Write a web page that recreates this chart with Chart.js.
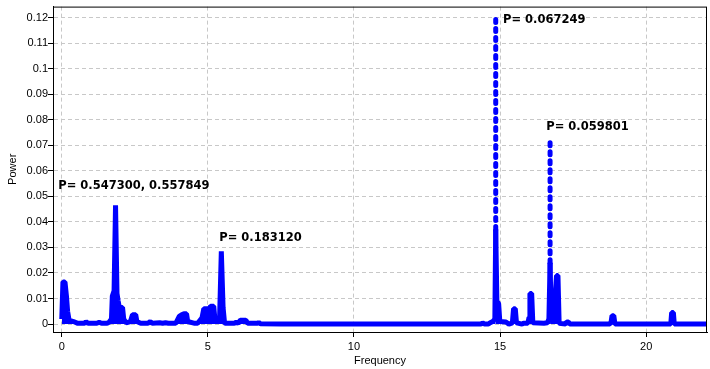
<!DOCTYPE html>
<html>
<head>
<meta charset="utf-8">
<script src="https://cdn.jsdelivr.net/npm/chart.js@4/dist/chart.umd.min.js"></script>
<style>
  body { margin: 0; background: #fff; }
  #wrap { width: 710px; height: 369px; }
</style>
</head>
<body>
<div id="wrap"><canvas id="myChart"></canvas></div>
<script>
// periodogram samples
const frequency = [
  0.00, 0.04, 0.11, 0.16, 0.20, 0.25, 0.40, 0.55, 0.78, 0.83, 0.90, 1.20, 1.28, 1.36, 1.55, 1.62,
  1.70, 1.73, 1.79, 1.84, 1.89, 1.93, 1.97, 2.08, 2.12, 2.20, 2.35, 2.42, 2.53, 2.57, 2.70,
  2.95, 3.03, 3.10, 3.35, 3.45, 3.55, 3.65, 3.90,
  4.02, 4.10, 4.18, 4.27, 4.31, 4.55, 4.65, 4.80, 4.86, 5.05, 5.09, 5.20, 5.24, 5.34, 5.40,
  5.46, 5.52, 5.57, 5.62, 5.90, 5.97, 6.04, 6.11, 6.30, 6.36, 6.70, 6.74, 6.80, 7.50,
  14.35, 14.40, 14.46, 14.60, 14.66, 14.75, 14.82, 14.85, 14.85, 14.85, 14.89, 14.95, 14.99,
  15.20, 15.30, 15.42, 15.46, 15.52, 15.56, 15.75, 15.80, 15.95, 15.99, 16.02, 16.08, 16.12,
  16.50, 16.62, 16.67, 16.71, 16.71, 16.71, 16.75, 16.82, 16.93, 16.98, 17.02,
  17.24, 17.28, 17.34, 17.38, 18.76, 18.80, 18.83, 18.89, 18.93, 20.84, 20.87, 20.93, 20.96, 22.50
];
const power = [
  0.0020, 0.0165, 0.0165, 0.0110, 0.0050, 0.0015, 0.0010, 0.0003, 0.0003, 0.0010, 0.0003, 0.0003, 0.0007, 0.0003, 0.0003, 0.0007,
  0.0020, 0.0110, 0.0130, 0.0465, 0.0120, 0.0090, 0.0065, 0.0065, 0.0020, 0.0005, 0.0010, 0.0037, 0.0037, 0.0010, 0.0003,
  0.0003, 0.0010, 0.0003, 0.0005, 0.0003, 0.0005, 0.0003, 0.0003,
  0.0030, 0.0036, 0.0040, 0.0040, 0.0010, 0.0003, 0.0003, 0.0025, 0.0060, 0.0060, 0.0070, 0.0070, 0.0020, 0.0015, 0.0020,
  0.0285, 0.0065, 0.0005, 0.0003, 0.0003, 0.0008, 0.0003, 0.0015, 0.0015, 0.0003, 0.0003, 0.0007, 0.0001, 0.0000,
  0.0000, 0.0005, 0.0000, 0.0000, 0.0005, 0.0010, 0.0020, 0.0370, 0.1205, 0.0370, 0.0090, 0.0080, 0.0010,
  0.0008, 0.0000, 0.0005, 0.0060, 0.0060, 0.0005, 0.0000, 0.0003, 0.0003, 0.0026, 0.0120, 0.0120, 0.0005,
  0.0003, 0.0005, 0.0020, 0.0240, 0.0722, 0.0240, 0.0020, 0.0005, 0.0190, 0.0190, 0.0003,
  0.0000, 0.0008, 0.0008, 0.0000, 0.0000, 0.0010, 0.0033, 0.0033, 0.0000, 0.0000, 0.0045, 0.0045, 0.0000, 0.0000
];

const xTicks = [0, 5, 10, 15, 20];
const yTicks = [0, 0.01, 0.02, 0.03, 0.04, 0.05, 0.06, 0.07, 0.08, 0.09, 0.1, 0.11, 0.12];

const peakLabels = ["P= 0.547300, 0.557849", "P= 0.183120", "P= 0.067249", "P= 0.059801"];
const labelFreq = [-0.12, 5.39, 15.10, 16.58];
const labelPower = [0.0528, 0.0325, 0.1179, 0.0761];

const points = frequency.map((f, i) => ({ x: f, y: power[i] }));

const frame = {
  id: "frame",
  afterDraw(chart) {
    const { ctx, chartArea: a, scales } = chart;
    ctx.save();
    ctx.strokeStyle = "#000";
    ctx.lineWidth = 1;
    ctx.strokeRect(a.left + 0.5, a.top + 0.5, a.right - a.left - 1, a.bottom - a.top);
    ctx.fillStyle = "#000";
    ctx.font = "bold 11.5px 'DejaVu Sans'";
    ctx.textAlign = "left";
    ctx.textBaseline = "alphabetic";
    peakLabels.forEach((t, i) => {
      ctx.fillText(t, scales.x.getPixelForValue(labelFreq[i]), scales.y.getPixelForValue(labelPower[i]));
    });
    ctx.restore();
  },
};

// upper part of the two tallest peaks is drawn as a dotted column
const tall = (ctx) => ctx.p0.parsed.y >= 0.02 && ctx.p1.parsed.y >= 0.02;

new Chart(document.getElementById("myChart"), {
  type: "line",
  data: {
    datasets: [
      {
        data: points,
        borderColor: "#0000ff",
        backgroundColor: "#0000ff",
        fill: "origin",
        borderWidth: 5,
        borderJoinStyle: "bevel",
        pointRadius: 0,
        tension: 0,
        clip: { left: 5, top: 5, right: 0, bottom: 5 },
        segment: {
          borderDash: (ctx) => (tall(ctx) && ctx.p1.parsed.y > ctx.p0.parsed.y ? [3, 6] : undefined),
          borderCapStyle: (ctx) => (tall(ctx) && ctx.p1.parsed.y > ctx.p0.parsed.y ? "round" : undefined),
          borderColor: (ctx) => (tall(ctx) && ctx.p1.parsed.y < ctx.p0.parsed.y ? "rgba(0,0,0,0)" : undefined),
        },
      },
    ],
  },
  options: {
    responsive: true,
    maintainAspectRatio: false,
    animation: false,
    layout: { padding: { top: 4, right: 3, left: 0, bottom: 0 } },
    plugins: { legend: { display: false }, tooltip: { enabled: false } },
    scales: {
      x: {
        type: "linear",
        min: -0.3,
        max: 22.08,
        afterBuildTicks: (s) => { s.ticks = xTicks.map((v) => ({ value: v })); },
        afterFit: (s) => { s.height = 37; },
        grid: { color: "#c8c8c8", tickColor: "#000", tickLength: 5, tickBorderDash: [] },
        border: { color: "#000", dash: [4, 3] },
        ticks: { padding: 3, color: "#000", font: { family: "Liberation Sans", size: 11 }, maxRotation: 0 },
        title: { display: true, text: "Frequency", color: "#000", font: { family: "Liberation Sans", size: 11 }, padding: { top: 0, bottom: 1 } },
      },
      y: {
        min: -0.0031,
        max: 0.1243,
        afterBuildTicks: (s) => { s.ticks = yTicks.map((v) => ({ value: v })); },
        afterFit: (s) => { s.width = 53; },
        grid: { color: "#c8c8c8", tickColor: "#000", tickLength: 5, tickBorderDash: [] },
        border: { color: "#000", dash: [4, 3] },
        ticks: {
          padding: 0,
          color: "#000",
          font: { family: "Liberation Sans", size: 11 },
          callback: (v) => String(+v.toFixed(2)),
        },
        title: { display: true, text: "Power", color: "#000", font: { family: "Liberation Sans", size: 11 }, padding: { top: 6, bottom: 0 } },
      },
    },
  },
  plugins: [frame],
});
</script>
</body>
</html>
